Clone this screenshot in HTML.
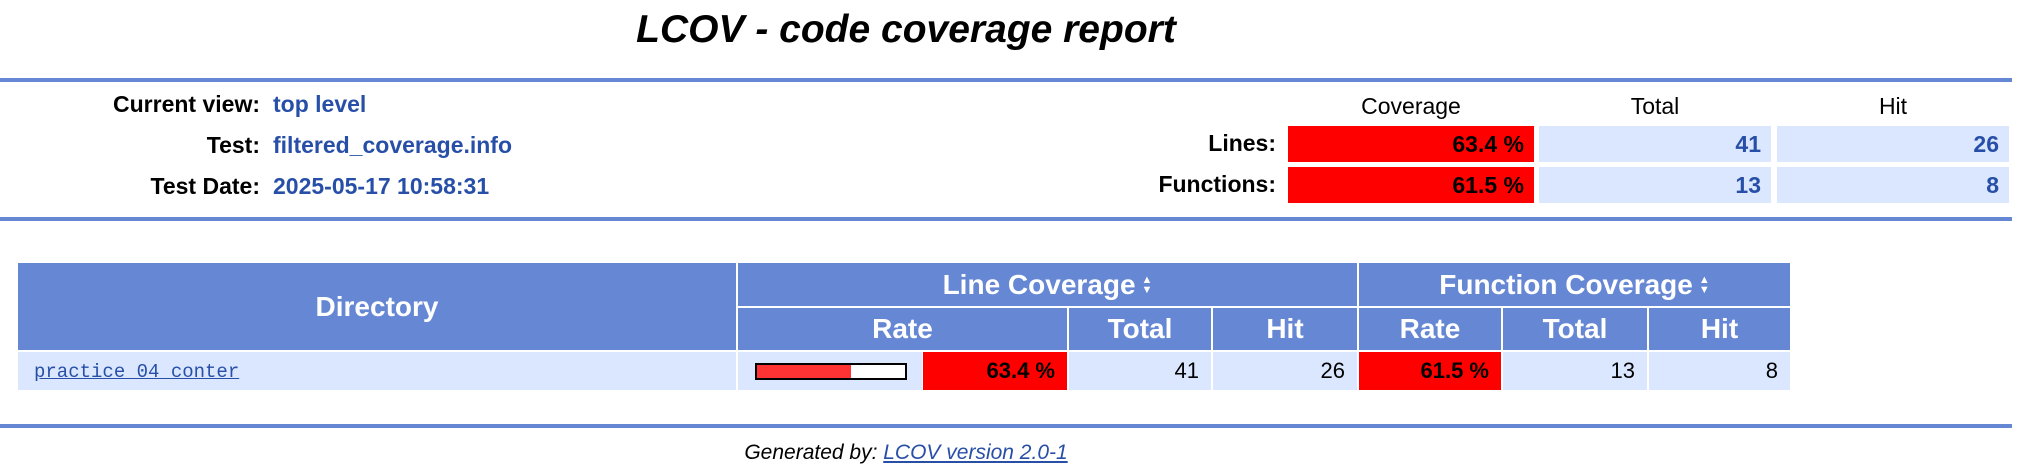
<!DOCTYPE html>
<html><head><meta charset="utf-8"><style>
body{margin:0;width:2020px;height:454px;overflow:hidden;background:#fff;font-family:"Liberation Sans",sans-serif;position:relative}
.a{position:absolute;box-sizing:border-box}
.hr{position:absolute;left:0;width:2012px;height:4px;background:#6688d4}
.lbl{font-weight:bold;font-size:23px;text-align:right;color:#000}
.val{font-weight:bold;font-size:23px;color:#284fa8}
.cell{display:flex;align-items:center;justify-content:flex-end;padding-right:10px;font-size:23px;font-weight:bold}
.lt{background:#dae7fe;color:#284fa8}
.red{background:#ff0000;color:#000}
.th{background:#6688d4;color:#fff;font-weight:bold;font-size:28px;display:flex;align-items:center;justify-content:center}
.td{display:flex;align-items:center;justify-content:flex-end;padding-right:12px;font-size:22px;color:#000}
.sort{display:inline-flex;flex-direction:column;font-size:11px;line-height:10px;margin-left:6px}
</style></head><body>
<div class="a" style="left:0;width:1812px;top:8px;text-align:center;font-size:39px;font-weight:bold;font-style:italic">LCOV - code coverage report</div>
<div class="hr" style="top:78px"></div>

<div class="a lbl" style="left:0;width:260px;top:91px">Current view:</div>
<div class="a val" style="left:273px;top:91px">top level</div>
<div class="a lbl" style="left:0;width:260px;top:132px">Test:</div>
<div class="a val" style="left:273px;top:132px">filtered_coverage.info</div>
<div class="a lbl" style="left:0;width:260px;top:173px">Test Date:</div>
<div class="a val" style="left:273px;top:173px">2025-05-17 10:58:31</div>

<div class="a" style="left:1288px;width:246px;top:93px;text-align:center;font-size:23px">Coverage</div>
<div class="a" style="left:1539px;width:232px;top:93px;text-align:center;font-size:23px">Total</div>
<div class="a" style="left:1777px;width:232px;top:93px;text-align:center;font-size:23px">Hit</div>

<div class="a lbl" style="left:1100px;width:176px;top:130px">Lines:</div>
<div class="a cell red" style="left:1288px;width:246px;top:126px;height:36px">63.4 %</div>
<div class="a cell lt" style="left:1539px;width:232px;top:126px;height:36px">41</div>
<div class="a cell lt" style="left:1777px;width:232px;top:126px;height:36px">26</div>
<div class="a lbl" style="left:1100px;width:176px;top:171px">Functions:</div>
<div class="a cell red" style="left:1288px;width:246px;top:167px;height:36px">61.5 %</div>
<div class="a cell lt" style="left:1539px;width:232px;top:167px;height:36px">13</div>
<div class="a cell lt" style="left:1777px;width:232px;top:167px;height:36px">8</div>
<div class="hr" style="top:217px"></div>

<div class="a th" style="left:18px;width:718px;top:263px;height:87px">Directory</div>
<div class="a th" style="left:738px;width:619px;top:263px;height:43px">Line Coverage<span class="sort"><span>&#9650;</span><span>&#9660;</span></span></div>
<div class="a th" style="left:1359px;width:431px;top:263px;height:43px">Function Coverage<span class="sort"><span>&#9650;</span><span>&#9660;</span></span></div>
<div class="a th" style="left:738px;width:329px;top:308px;height:42px">Rate</div>
<div class="a th" style="left:1069px;width:142px;top:308px;height:42px">Total</div>
<div class="a th" style="left:1213px;width:144px;top:308px;height:42px">Hit</div>
<div class="a th" style="left:1359px;width:142px;top:308px;height:42px">Rate</div>
<div class="a th" style="left:1503px;width:144px;top:308px;height:42px">Total</div>
<div class="a th" style="left:1649px;width:141px;top:308px;height:42px">Hit</div>

<div class="a" style="left:18px;width:718px;top:352px;height:38px;background:#dae7fe"></div>
<div class="a" style="left:34px;top:361px;font-family:'Liberation Mono',monospace;font-size:19px;color:#284fa8;text-decoration:underline">practice_04_conter</div>
<div class="a" style="left:738px;width:184px;top:352px;height:38px;background:#dae7fe"></div>
<div class="a" style="left:755px;width:152px;top:363px;height:17px;border:2px solid #000;background:#fff"><div style="width:63.4%;height:100%;background:#ff3333"></div></div>
<div class="a td red" style="left:923px;width:144px;top:352px;height:38px;font-weight:bold">63.4 %</div>
<div class="a td lt" style="left:1069px;width:142px;top:352px;height:38px;color:#000">41</div>
<div class="a td lt" style="left:1213px;width:144px;top:352px;height:38px;color:#000">26</div>
<div class="a td red" style="left:1359px;width:142px;top:352px;height:38px;font-weight:bold">61.5 %</div>
<div class="a td lt" style="left:1503px;width:144px;top:352px;height:38px;color:#000">13</div>
<div class="a td lt" style="left:1649px;width:141px;top:352px;height:38px;color:#000">8</div>

<div class="hr" style="top:424px"></div>
<div class="a" style="left:0;width:1812px;top:441px;text-align:center;font-size:21px;font-style:italic">Generated by: <span style="color:#284fa8;text-decoration:underline">LCOV version 2.0-1</span></div>
</body></html>
